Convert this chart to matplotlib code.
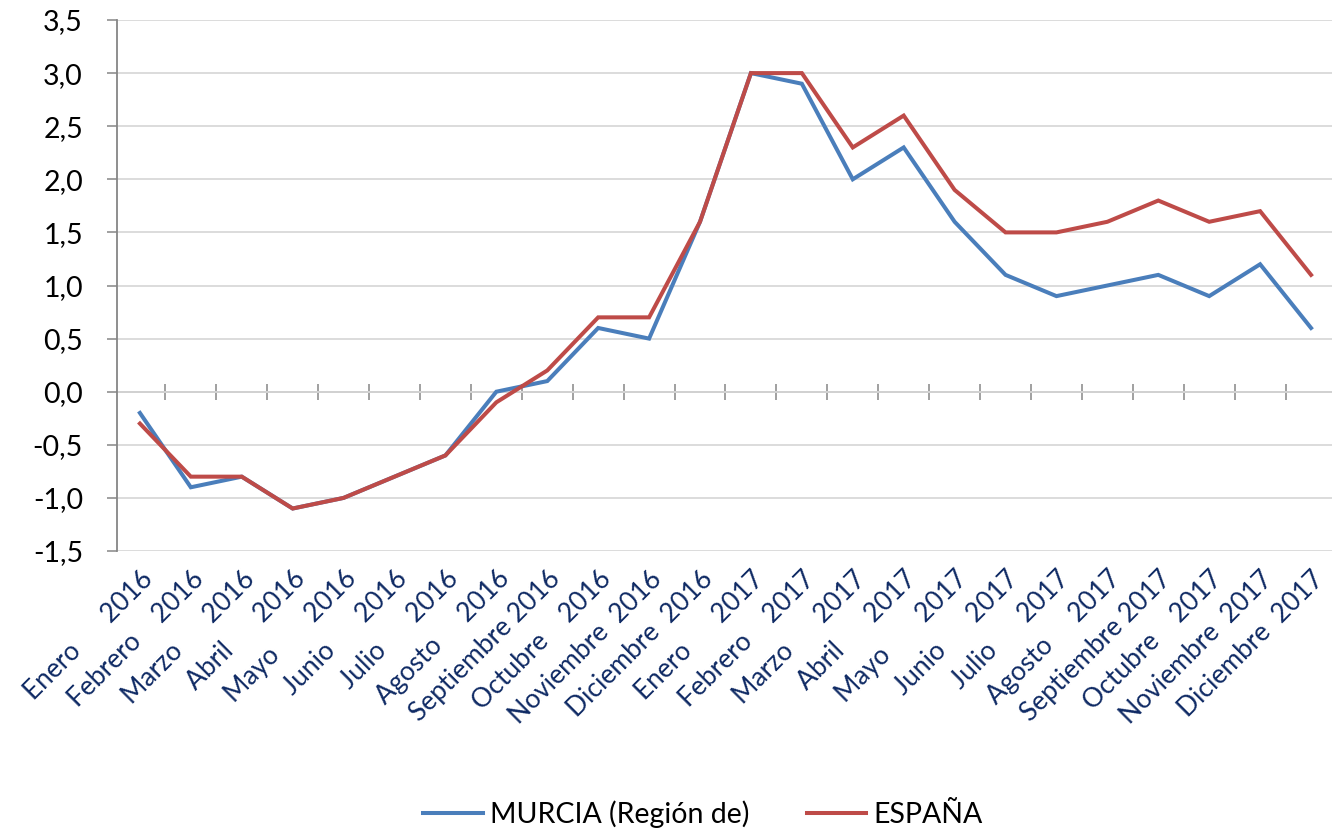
import matplotlib
matplotlib.use("Agg")
import matplotlib.pyplot as plt
import numpy as np

months = ["Enero", "Febrero", "Marzo", "Abril", "Mayo", "Junio", "Julio",
          "Agosto", "Septiembre", "Octubre", "Noviembre", "Diciembre"]
years = ["2016"] * 12 + ["2017"] * 12
categories = [f"{m:<10} {y}" for m, y in zip(months * 2, years)]

murcia = [-0.2, -0.9, -0.8, -1.1, -1.0, -0.8, -0.6, 0.0, 0.1, 0.6, 0.5, 1.6,
          3.0, 2.9, 2.0, 2.3, 1.6, 1.1, 0.9, 1.0, 1.1, 0.9, 1.2, 0.6]
espana = [-0.3, -0.8, -0.8, -1.1, -1.0, -0.8, -0.6, -0.1, 0.2, 0.7, 0.7, 1.6,
          3.0, 3.0, 2.3, 2.6, 1.9, 1.5, 1.5, 1.6, 1.8, 1.6, 1.7, 1.1]
series_names = ["MURCIA (Región de)", "ESPAÑA"]
yticks = np.arange(-1.5, 3.51, 0.5)

plt.rcParams['font.family'] = ['Lato', 'DejaVu Sans']

W, H = 1332, 833
fig = plt.figure(figsize=(W / 100, H / 100), dpi=100)
ax = fig.add_axes([117 / W, 1 - 551 / H, (1336.5 - 117) / W, (551 - 20) / H])

x = np.arange(len(categories))
ax.plot(x, murcia, color="#4A7EBB", lw=2.9, label=series_names[0], solid_joinstyle='miter', zorder=3)
ax.plot(x, espana, color="#BE4B48", lw=2.9, label=series_names[1], solid_joinstyle='miter', zorder=3)

ymin, ymax = -1.5, 3.5
ax.set_ylim(ymin, ymax)
ax.set_xlim(-0.45, len(categories) - 0.5)

ax.set_yticks(yticks)
ax.set_yticklabels([f"{v:.1f}".replace(".", ",") for v in yticks], fontsize=20.5, color="black")
ax.yaxis.grid(True, color="#D9D9D9", lw=1.3)
ax.set_axisbelow(True)
ax.tick_params(axis='y', direction='out', length=7.5, width=1.1, color="#868686", pad=17)

for s in ['top', 'right', 'bottom']:
    ax.spines[s].set_visible(False)
ax.spines['left'].set_color("#868686")
ax.spines['left'].set_linewidth(1.3)

ax.set_xticks(x)
ax.set_xticklabels(categories, rotation=45, ha='right', va='top',
                   rotation_mode='anchor', fontsize=19, color="#0F2A64")
ax.tick_params(axis='x', length=0, pad=11)

sec = ax.secondary_xaxis((0 - ymin) / (ymax - ymin))
sec.set_xticks(x[:-1] + 0.5)
sec.set_xticklabels([])
sec.tick_params(direction='inout', length=12, width=1.1, color="#868686")
sec.spines['bottom'].set_color("#868686")
sec.spines['bottom'].set_linewidth(1.3)
for s in ['top', 'left', 'right']:
    sec.spines[s].set_visible(False)

fig.legend(loc='center', bbox_to_anchor=(703 / W, 1 - 814 / H), ncol=2, frameon=False,
           fontsize=20.5, handlelength=2.1, handletextpad=0.25, columnspacing=2.0,
           borderpad=0.2)

fig.savefig("out.png", dpi=100)
